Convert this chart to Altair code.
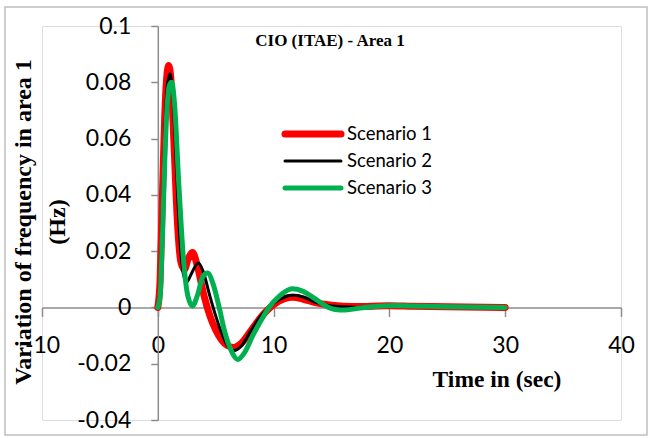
import altair as alt
import pandas as pd

# ---- data ----
series_names = ["Scenario 1", "Scenario 2", "Scenario 3"]
series_colors = ["#ff0000", "#000000", "#00b050"]
series_widths = [7, 3, 5]

t_s1 = [0, 0.2, 0.4, 0.6, 0.8, 0.95, 1.15, 1.4, 1.7, 2.0, 2.3, 2.6, 3.0, 3.4, 4.0, 4.5,
        5.0, 5.5, 6.0, 6.6, 7.2, 8.0, 9.0, 10.0, 11.0, 11.6, 12.5, 13.5, 15, 17, 20, 22, 25, 30]
v_s1 = [0, 0.010, 0.040, 0.068, 0.083, 0.086, 0.080, 0.058, 0.030, 0.016, 0.0135, 0.017, 0.0195,
        0.015, 0.004, -0.003, -0.008, -0.0115, -0.0135, -0.0142, -0.0128, -0.0085, -0.003, 0.001,
        0.0032, 0.0036, 0.003, 0.0018, 0.0008, 0.0003, 0.0006, 0.0004, 0.0002, 0.0]

t_s2 = [0, 0.2, 0.4, 0.6, 0.8, 1.05, 1.3, 1.6, 1.9, 2.2, 2.5, 2.9, 3.5, 3.9, 4.5, 5.0,
        5.5, 6.0, 6.6, 7.2, 8.0, 9.0, 10.0, 11.0, 11.7, 12.5, 13.5, 15, 17, 20, 25, 30]
v_s2 = [0, 0.008, 0.035, 0.062, 0.078, 0.083, 0.075, 0.050, 0.025, 0.012, 0.009, 0.012, 0.0158,
        0.013, 0.004, -0.003, -0.009, -0.0135, -0.0153, -0.0138, -0.0085, -0.0025, 0.0015, 0.0038,
        0.0043, 0.0038, 0.002, 0.0005, 0.0001, 0.0006, 0.0002, 0.0]

t_s3 = [0, 0.2, 0.4, 0.6, 0.8, 1.0, 1.2, 1.45, 1.8, 2.2, 2.6, 3.0, 3.4, 3.9, 4.3, 4.8, 5.3,
        5.8, 6.3, 6.9, 7.5, 8.2, 9.0, 9.6, 10.5, 11.6, 12.5, 13.5, 14.5, 15.3, 16.2, 17.5, 19,
        20.5, 22, 25, 30]
v_s3 = [0, 0.004, 0.025, 0.052, 0.071, 0.079, 0.080, 0.072, 0.045, 0.018, 0.004, 0.0005, 0.004,
        0.011, 0.0122, 0.008, 0.0, -0.009, -0.015, -0.0185, -0.016, -0.010, -0.004, 0.0, 0.004,
        0.0066, 0.0058, 0.0033, 0.0005, -0.0007, -0.0009, -0.0002, 0.0004, 0.0007, 0.0005,
        0.0002, 0.0]

x_ticks = [-10, 0, 10, 20, 30, 40]
y_ticks = [-0.04, -0.02, 0, 0.02, 0.04, 0.06, 0.08, 0.1]

chart_title = "CIO (ITAE) - Area 1"
y_title_1 = "Variation of frequency in area 1"
y_title_2 = "(Hz)"
x_title = "Time in (sec)"

rows = []
for name, ts, vs in zip(series_names, [t_s1, t_s2, t_s3], [v_s1, v_s2, v_s3]):
    for t, v in zip(ts, vs):
        rows.append({"series": name, "t": t, "v": v})
df = pd.DataFrame(rows)
legend_df = pd.DataFrame({"series": series_names})

# ---- layout ----
W, H = 579, 394
PAD_L, PAD_T = 42, 26
x_dom = [-10, 40]
y_dom = [-0.04, 0.1]
y_axis_offset = -(0 - x_dom[0]) / (x_dom[1] - x_dom[0]) * W
x_axis_offset = -(0 - y_dom[0]) / (y_dom[1] - y_dom[0]) * H

AX = "#8c8c8c"
LABEL_FONT = "Lato"
SERIF = "Liberation Serif"

color_scale = alt.Scale(domain=series_names, range=series_colors)
width_scale = alt.Scale(type="ordinal", domain=series_names, range=series_widths)

lines = alt.Chart(df).mark_line(
    interpolate="monotone", strokeCap="round", strokeJoin="round"
).encode(
    x=alt.X("t:Q", scale=alt.Scale(domain=x_dom, nice=False, zero=False),
            axis=alt.Axis(values=x_ticks, orient="bottom", offset=x_axis_offset, title=None,
                          grid=False, domainColor=AX, tickColor=AX, domainWidth=1.5,
                          tickWidth=1.5, tickSize=9, labelPadding=18, labelFont=LABEL_FONT,
                          labelFontSize=23, labelColor="black", labelFlush=False,
                          labelOverlap=False,
                          labelExpr="replace(format(datum.value,'~g'),'\u2212','-')")),
    y=alt.Y("v:Q", scale=alt.Scale(domain=y_dom, nice=False, zero=False),
            axis=alt.Axis(values=y_ticks, orient="left", offset=y_axis_offset, title=None,
                          grid=False, domainColor=AX, tickColor=AX, domainWidth=1.5,
                          tickWidth=1.5, tickSize=7, labelPadding=20, labelFont=LABEL_FONT,
                          labelFontSize=23, labelColor="black", labelFlush=False,
                          labelOverlap=False,
                          labelExpr="replace(format(datum.value,'~g'),'\u2212','-')")),
    color=alt.Color("series:N", scale=color_scale, legend=None),
    strokeWidth=alt.StrokeWidth("series:N", scale=width_scale, legend=None),
)

# legend (drawn from the series list)
leg_y = alt.Y("series:N", scale=alt.Scale(type="point", domain=series_names,
                                          range=[134 - PAD_T, 188 - PAD_T], padding=0),
              axis=None)
leg_lines = alt.Chart(legend_df).mark_rule(strokeCap="round").encode(
    x=alt.value(285 - PAD_L), x2=alt.value(341 - PAD_L), y=leg_y,
    color=alt.Color("series:N", scale=color_scale, legend=None),
    strokeWidth=alt.StrokeWidth("series:N", scale=width_scale, legend=None),
)
leg_text = alt.Chart(legend_df).mark_text(
    font=LABEL_FONT, fontSize=18.5, color="black", align="left", baseline="middle"
).encode(x=alt.value(347 - PAD_L), y=leg_y, text="series:N")

border = alt.Chart(pd.DataFrame({"k": [0]})).mark_rect(
    fill=None, stroke="#bfbfbf", strokeWidth=1.5
).encode(
    x=alt.value(5 - PAD_L), x2=alt.value(647 - PAD_L),
    y=alt.value(7 - PAD_T), y2=alt.value(435 - PAD_T),
)

title_txt = alt.Chart(pd.DataFrame({"text": [chart_title]})).mark_text(
    font=SERIF, fontSize=17, fontWeight="bold", color="black", align="center", baseline="middle"
).encode(text="text:N", x=alt.value(330 - PAD_L), y=alt.value(41 - PAD_T))

xt = alt.Chart(pd.DataFrame({"text": [x_title]})).mark_text(
    font=SERIF, fontSize=23.5, fontWeight="bold", color="black", align="center", baseline="middle"
).encode(text="text:N", x=alt.value(497 - PAD_L), y=alt.value(380 - PAD_T))

yt1 = alt.Chart(pd.DataFrame({"text": [y_title_1]})).mark_text(
    font=SERIF, fontSize=24, fontWeight="bold", color="black", align="center",
    baseline="middle", angle=270
).encode(text="text:N", x=alt.value(24 - PAD_L), y=alt.value(222 - PAD_T))

yt2 = alt.Chart(pd.DataFrame({"text": [y_title_2]})).mark_text(
    font=SERIF, fontSize=24, fontWeight="bold", color="black", align="center",
    baseline="middle", angle=270
).encode(text="text:N", x=alt.value(58 - PAD_L), y=alt.value(222 - PAD_T))

chart = alt.layer(border, lines, leg_lines, leg_text, title_txt, xt, yt1, yt2).resolve_scale(
    y="independent"
).properties(
    width=W, height=H,
    autosize=alt.AutoSizeParams(type="none"),
    padding={"left": PAD_L, "top": PAD_T, "right": 650 - PAD_L - W, "bottom": 438 - PAD_T - H},
).configure_view(stroke=None).configure(background="white")

chart.save("out.html", embed_options={"renderer": "svg", "actions": False})
